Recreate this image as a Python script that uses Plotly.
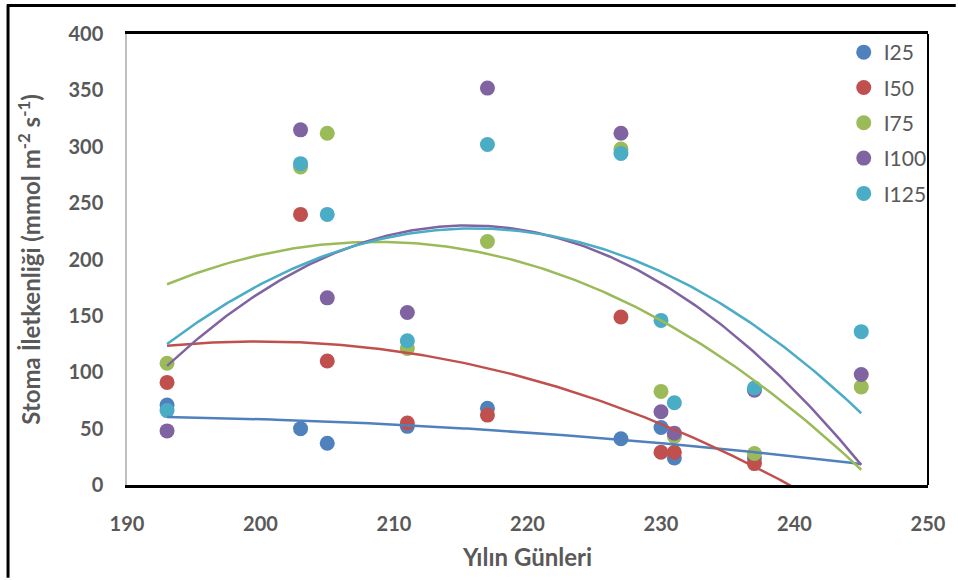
import numpy as np
import plotly.graph_objects as go

# ---- data ----
series_names = ["I25", "I50", "I75", "I100", "I125"]
colors = ["#4F81BD", "#C0504D", "#9BBB59", "#8064A2", "#4BACC6"]

days_common = [193, 203, 205, 211, 217, 227, 230, 231, 237, 245]

i25_days = [193, 203, 205, 211, 217, 227, 230, 231, 237]
i25_vals = [71, 50, 37, 52, 68, 41, 51, 24, 24]

i50_days = [193, 203, 205, 211, 217, 227, 230, 231, 237]
i50_vals = [91, 240, 110, 55, 62, 149, 29, 29, 19]

i75_days = [193, 203, 205, 211, 217, 227, 230, 231, 237, 245]
i75_vals = [108, 282, 312, 121, 216, 298, 83, 43, 28, 87]

i100_days = [193, 203, 205, 211, 217, 227, 230, 231, 237, 245]
i100_vals = [48, 315, 166, 153, 352, 312, 65, 46, 84, 98]

i125_days = [193, 203, 205, 211, 217, 227, 230, 231, 237, 245]
i125_vals = [66, 285, 240, 128, 302, 294, 146, 73, 86, 136]

x_ticks = [190, 200, 210, 220, 230, 240, 250]
y_ticks = [0, 50, 100, 150, 200, 250, 300, 350, 400]

all_days = [i25_days, i50_days, i75_days, i100_days, i125_days]
all_vals = [i25_vals, i50_vals, i75_vals, i100_vals, i125_vals]

# ---- layout constants ----
W, H = 958, 580
L, R, T, B = 127, 23, 34, 89
pw, ph = W - L - R, H - T - B

TXT = "#595959"
FONT = "Lato"

fig = go.Figure()

# markers
for name, c, d, v in zip(series_names, colors, all_days, all_vals):
    fig.add_trace(go.Scatter(
        x=d, y=v, mode="markers", name=name, legendgroup=name,
        marker=dict(size=15, color=c, line=dict(width=0)),
        cliponaxis=False,
    ))

# quadratic trendlines (least squares fit of each series), spanning full day range
xmin, xmax = min(days_common), max(days_common)
xs = np.linspace(xmin, xmax, 200)
for name, c, d, v in zip(series_names, colors, all_days, all_vals):
    coef = np.polyfit(d, v, 2)
    fig.add_trace(go.Scatter(
        x=xs, y=np.polyval(coef, xs), mode="lines", showlegend=False,
        line=dict(color=c, width=2.5), hoverinfo="skip",
    ))

def px_x(p):
    return (p - L) / pw

def px_y(p):
    return (H - B - p) / ph

shapes = [
    # right border of plot area
    dict(type="line", xref="paper", yref="paper", x0=1, x1=1, y0=0, y1=1,
         line=dict(color="black", width=2)),
    # outer frame (left and top visible)
    dict(type="line", xref="paper", yref="paper", x0=px_x(7), x1=px_x(7),
         y0=px_y(4), y1=px_y(H + 5), line=dict(color="black", width=3)),
    dict(type="line", xref="paper", yref="paper", x0=px_x(6), x1=px_x(W + 5),
         y0=px_y(5), y1=px_y(5), line=dict(color="black", width=3)),
]

fig.update_layout(
    width=W, height=H,
    margin=dict(l=L, r=R, t=T, b=B, pad=0),
    paper_bgcolor="white", plot_bgcolor="white",
    font=dict(family=FONT, color=TXT),
    shapes=shapes,
    legend=dict(
        x=px_x(850), y=px_y(32), xanchor="left", yanchor="top",
        font=dict(size=21, color=TXT, family=FONT),
        tracegroupgap=5, itemwidth=30, bgcolor="rgba(0,0,0,0)",
    ),
    xaxis=dict(
        range=[190, 250], tickvals=x_ticks, showgrid=False, zeroline=False,
        showline=True, linecolor="black", linewidth=2.5, mirror=True,
        ticks="outside", ticklen=0, ticklabelstandoff=19,
        tickfont=dict(size=20, color=TXT, family=FONT, weight="bold"),
        title=dict(text="Yılın Günleri", standoff=16,
                   font=dict(size=24, color=TXT, family=FONT, weight="bold")),
    ),
    yaxis=dict(
        range=[0, 400], tickvals=y_ticks, showgrid=False, zeroline=False,
        showline=True, linecolor="#BFBFBF", linewidth=1.5,
        ticks="outside", ticklen=0, ticklabelstandoff=18,
        tickfont=dict(size=20, color=TXT, family=FONT, weight="bold"),
        title=dict(text="Stoma İletkenliği (mmol m<sup>-2</sup> s<sup>-1</sup>)", standoff=21,
                   font=dict(size=24, color=TXT, family=FONT, weight="bold")),
    ),
)

fig.write_html(
    "out.html",
    config={"displayModeBar": False},
    post_script="document.body.style.margin='0';document.body.style.overflow='hidden';",
)
